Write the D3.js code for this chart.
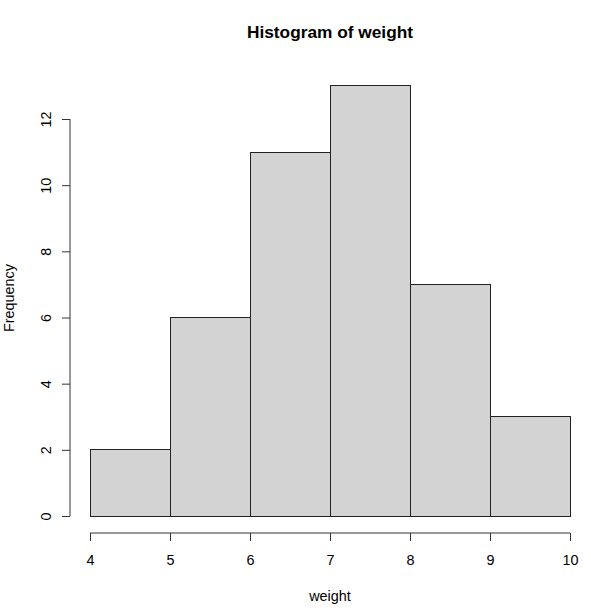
<!DOCTYPE html>
<html><head><meta charset="utf-8">
<script src="https://cdn.jsdelivr.net/npm/d3@7"></script>
<style>body{margin:0;background:#fff}svg{display:block}text{font-family:"Liberation Sans",Arial,sans-serif;fill:#000}</style>
</head><body>
<script>
const binStarts = [4, 5, 6, 7, 8, 9];
const binEnds = [5, 6, 7, 8, 9, 10];
const counts = [2, 6, 11, 13, 7, 3];
const xTicks = [4, 5, 6, 7, 8, 9, 10];
const yTicks = [0, 2, 4, 6, 8, 10, 12];

const W = 591, H = 612;
const FS = 14.4;
const svg = d3.select("body").append("svg").attr("width", W).attr("height", H);
const x = d3.scaleLinear().domain([4, 10]).range([90, 570]);
const y = d3.scaleLinear().domain([0, 12]).range([516, 119]);

svg.selectAll("rect.bar").data(counts).join("rect")
  .attr("class", "bar")
  .attr("x", (d, i) => x(binStarts[i]))
  .attr("width", (d, i) => x(binEnds[i]) - x(binStarts[i]))
  .attr("y", d => y(d))
  .attr("height", d => y(0) - y(d))
  .attr("fill", "#d3d3d3").attr("stroke", "#222").attr("stroke-width", 1)
  .attr("shape-rendering", "crispEdges");

// x axis
const gx = svg.append("g").attr("transform", "translate(0,533)");
gx.call(d3.axisBottom(x).tickValues(xTicks).tickFormat(d3.format("d")).tickSize(8).tickSizeOuter(0));
gx.select(".domain").attr("d", `M${x(4)},0H${x(10)}`).attr("stroke", "#333");
gx.selectAll(".tick line").attr("stroke", "#333");
gx.selectAll(".tick text").attr("font-size", FS).attr("font-family", "Liberation Sans, Arial, sans-serif")
  .attr("y", 32).attr("dy", null);

// y axis
const gy = svg.append("g").attr("transform", "translate(70,0)");
gy.call(d3.axisLeft(y).tickValues(yTicks).tickFormat(d3.format("d")).tickSize(8).tickSizeOuter(0));
gy.select(".domain").attr("d", `M0,${y(0)}V${y(12)}`).attr("stroke", "#333");
gy.selectAll(".tick line").attr("stroke", "#333");
gy.selectAll(".tick text")
  .attr("font-size", FS).attr("font-family", "Liberation Sans, Arial, sans-serif")
  .attr("x", null).attr("dy", null)
  .attr("text-anchor", "middle")
  .attr("transform", "translate(-19,0) rotate(-90)");

svg.append("text").attr("x", 330).attr("y", 38).attr("text-anchor", "middle")
  .attr("font-size", 17.3).attr("font-weight", "bold").text("Histogram of weight");
svg.append("text").attr("x", 330).attr("y", 601).attr("text-anchor", "middle")
  .attr("font-size", FS).text("weight");
svg.append("text").attr("transform", "translate(14,298) rotate(-90)").attr("text-anchor", "middle")
  .attr("font-size", FS).text("Frequency");
</script>
</body></html>
